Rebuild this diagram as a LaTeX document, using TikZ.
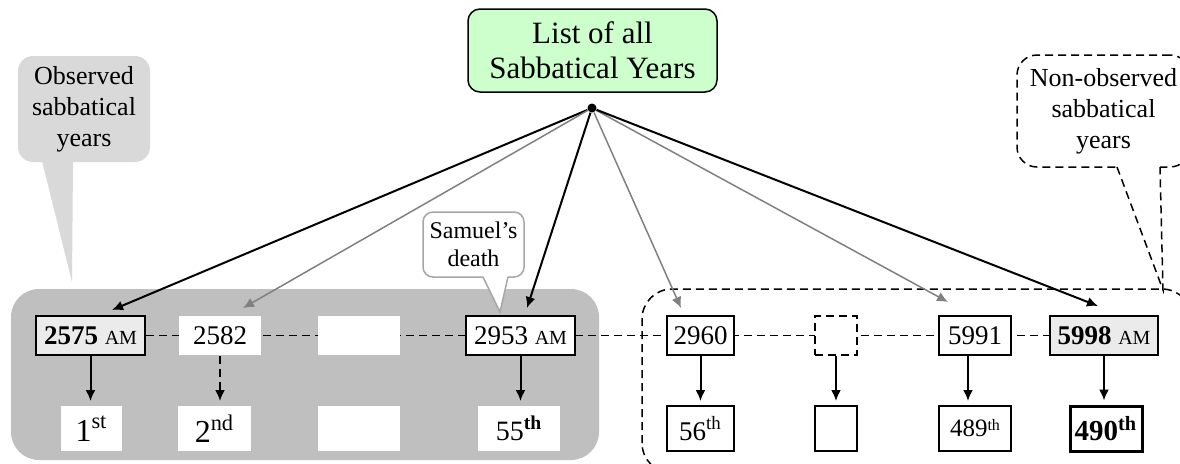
\documentclass[tikz,border=0pt]{standalone}
\usepackage{fontspec}
\setmainfont{Liberation Serif}
\usetikzlibrary{arrows.meta, calc, backgrounds}
\definecolor{BoxGreen}{HTML}{CCFFCC}
\definecolor{BlockGray}{HTML}{BFBFBF}
\definecolor{NoteGray}{HTML}{D9D9D9}
\definecolor{LineGray}{HTML}{808080}
\definecolor{EdgeGray}{HTML}{A6A6A6}
\definecolor{YearGray}{HTML}{EBEBEB}
\newcommand{\amtag}{{\fontsize{10}{12}\selectfont AM}}
\tikzset{
  >=latex,
  longdash/.style={dash pattern=on 4pt off 2.5pt},
  % year boxes (upper row)
  yearbox/.style={rectangle,draw,line width=1pt,fill=white,inner sep=0pt,
    minimum height=19.5pt,font=\fontsize{13.5}{15}\selectfont},
  yearbox blank/.style={yearbox,draw=none},
  yearbox hidden/.style={yearbox,longdash},
  % ordinal boxes (lower row)
  ordbox/.style={rectangle,draw,line width=1pt,fill=white,inner sep=0pt,
    minimum height=22.5pt,font=\fontsize{13.5}{15}\selectfont},
  ordbox blank/.style={ordbox,draw=none},
  % notes
  note/.style={align=center,inner sep=0pt,font=\fontsize{13}{15.5}\selectfont},
  % arrows
  hub arrow/.style={-{Latex[length=5.5pt,width=5pt]},line width=1pt},
  hub arrow gray/.style={hub arrow,LineGray,line width=0.75pt},
  down arrow/.style={-{Latex[length=5.5pt,width=5pt]},line width=1pt,shorten >=2pt}
}

\begin{document}
\begin{tikzpicture}[x=0.5pt,y=0.5pt]
    \useasboundingbox (0,0) rectangle (1180,463);
    \clip (0,0) rectangle (1180,463);
    % title
    \node[draw,line width=0.75pt,fill=BoxGreen,rounded corners=6pt,minimum width=124.5pt,
      minimum height=41.5pt,align=center,font=\fontsize{15.5}{17.5}\selectfont]
      (title) at (592.5,412.5) {List of all\\Sabbatical Years};
    \node[circle,fill,inner sep=0pt,minimum size=4.5pt] (hub) at (592,355) {};
    % upper row
    \node[yearbox,fill=YearGray,minimum width=54.5pt] (y2575) at (90.5,127.5) {\textbf{2575} \amtag};
    \node[yearbox blank,minimum width=41pt] (y2582) at (220,127.5) {2582};
    \node[yearbox blank,minimum width=41pt] (ygap) at (359,127.5) {};
    \node[yearbox,minimum width=54.5pt] (y2953) at (520.5,127.5) {2953 \amtag};
    \node[yearbox,minimum width=33.5pt] (y2960) at (700.5,127.5) {2960};
    \node[yearbox hidden,minimum width=21pt] (yhid) at (836,127.5) {};
    \node[yearbox,minimum width=36pt] (y5991) at (975,127.5) {5991};
    \node[yearbox,fill=YearGray,minimum width=54pt] (y5998) at (1104,127.5) {\textbf{5998} \amtag};
    % lower row
    \node[ordbox blank,minimum width=30.5pt,font=\fontsize{16}{18}\selectfont] (o1) at (91.5,34.5) {1\textsuperscript{st}};
    \node[ordbox blank,minimum width=36.5pt,font=\fontsize{16}{18}\selectfont] (o2) at (214.5,34.5) {2\textsuperscript{nd}};
    \node[ordbox blank,minimum width=41pt] (ogap) at (359,34.5) {};
    \node[ordbox blank,minimum width=41pt,font=\fontsize{14}{16}\selectfont] (o55) at (519,34.5) {55\textsuperscript{\bfseries th}};
    \node[ordbox,minimum width=33.5pt] (o56) at (700.5,34.5) {56\textsuperscript{th}};
    \node[ordbox,minimum width=21pt] (ohid) at (836,34.5) {};
    \node[ordbox,minimum width=36pt,font=\fontsize{12.5}{15}\selectfont] (o489) at (975,34.5) {489\raisebox{3pt}{\fontsize{8}{8}\selectfont th}};
    \node[ordbox,line width=1.5pt,minimum width=36pt,font=\fontsize{14.5}{16}\selectfont\bfseries] (o490) at (1106,34.5) {490\textsuperscript{th}};
    % background block and time line
    \begin{scope}[on background layer]
      \fill[BlockGray,rounded corners=14pt] (11,3) rectangle (599,174);
      \draw[longdash,line width=0.75pt] (y2575) -- (y5998);
    \end{scope}
    % observed note
    \node[note,fill=NoteGray,rounded corners=7.5pt,minimum width=66pt,minimum height=53pt]
      (obsnote) at (84,354) {Observed\\sabbatical\\years};
    \fill[NoteGray] (42,302) -- (72,181) -- (73,302) -- cycle;
    % Samuel's note
    \node[note,draw=EdgeGray,line width=0.75pt,fill=white,rounded corners=5pt,minimum width=50.5pt,
      minimum height=32.5pt,font=\fontsize{12}{14}\selectfont] (samnote) at (473.5,218.5) {Samuel’s\\death};
    \fill[white] (483,187.5) -- (500,151) -- (508,187.5) -- cycle;
    \draw[EdgeGray,line width=0.75pt] (483,186) -- (500,151) -- (508,186);
    % non-observed note
    \node[note,draw,longdash,line width=0.75pt,fill=white,rounded corners=10pt,minimum width=86.5pt,
      minimum height=56pt] (nonnote) at (1103.5,352) {Non-observed\\sabbatical\\years};
    \fill[white] (1117,297) -- (1163,173) -- (1160,297) -- cycle;
    \draw[longdash,line width=0.75pt] (1117,296) -- (1163,173) -- (1160,296);
    \draw[longdash,line width=0.75pt,rounded corners=15pt] (642,-10) rectangle (1192,174);
    % arrows from the list
    \draw[hub arrow] (hub) -- ($(y2575.north)+(21.5,5)$);
    \draw[hub arrow gray] (hub) -- ($(y2582.north)+(23,7)$);
    \draw[hub arrow] (hub) -- ($(y2953.north)+(6.5,7)$);
    \draw[hub arrow gray] (hub) -- ($(y2960.north)+(-19.5,7)$);
    \draw[hub arrow gray] (hub) -- ($(y5991.north)+(-27,13)$);
    \draw[hub arrow] (hub) -- ($(y5998.north)+(-6,9)$);
    % years to order
    \draw[down arrow] (y2575.south) -- (y2575.south |- o1.north);
    \draw[down arrow,longdash] (y2582.south) -- (y2582.south |- o2.north);
    \draw[down arrow] (y2953.south) -- (y2953.south |- o55.north);
    \draw[down arrow] (y2960.south) -- (y2960.south |- o56.north);
    \draw[down arrow] (yhid.south) -- (yhid.south |- ohid.north);
    \draw[down arrow] ([xshift=-3.5pt]y5991.south) -- ([xshift=-3.5pt]y5991.south |- o489.north);
    \draw[down arrow] (y5998.south) -- (y5998.south |- o490.north);
  \end{tikzpicture}
\end{document}
